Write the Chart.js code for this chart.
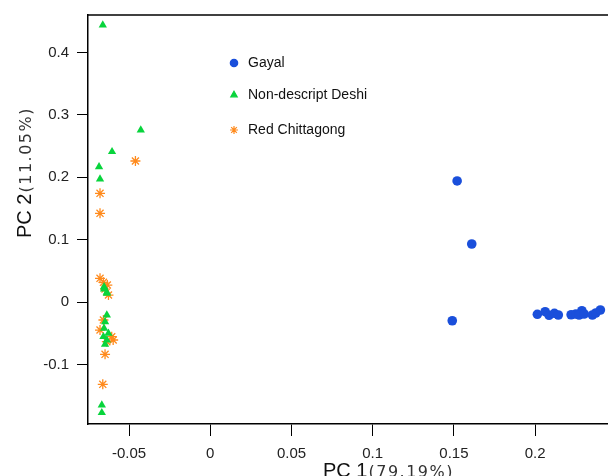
<!doctype html>
<html lang="en">
<head>
  <meta charset="utf-8">
  <title>PCA plot</title>
  <script src="https://cdn.jsdelivr.net/npm/chart.js@4.4.0/dist/chart.umd.min.js"></script>
  <style>
    html, body { margin: 0; padding: 0; background: #fff; }
  </style>
</head>
<body>
  <canvas id="myChart" width="608" height="476"></canvas>
  <script>
    // groups + PC scores
    const groups = ['Gayal', 'Non-descript Deshi', 'Red Chittagong'];

    const gayalX = [0.152, 0.161, 0.149, 0.2014, 0.2062, 0.2086, 0.2119, 0.2143, 0.2222, 0.2251, 0.2288, 0.2271, 0.2302, 0.2353, 0.2374, 0.2402];
    const gayalY = [0.194, 0.093, -0.030, -0.0197, -0.0155, -0.0213, -0.0181, -0.0208, -0.0204, -0.0192, -0.0139, -0.0208, -0.0192, -0.0208, -0.0176, -0.0128];

    const deshiX = [-0.0662, -0.0428, -0.0605, -0.0685, -0.0679, -0.0654, -0.0637, -0.0654, -0.0637, -0.0637, -0.0648, -0.0654, -0.0627, -0.0658, -0.0637, -0.0648, -0.0668, -0.0668];
    const deshiY = [0.4439, 0.2756, 0.2409, 0.2168, 0.1971, 0.0245, 0.0155, 0.0208, 0.0139, -0.0208, -0.0316, -0.0421, -0.0502, -0.0556, -0.0609, -0.0678, -0.1651, -0.1774];

    const redX = [-0.0461, -0.0679, -0.0679, -0.0679, -0.0658, -0.0634, -0.0648, -0.0627, -0.0658, -0.0679, -0.0607, -0.0598, -0.0637, -0.0648, -0.0662];
    const redY = [0.226, 0.1742, 0.1421, 0.0380, 0.0316, 0.0272, 0.0208, 0.0112, -0.0288, -0.0449, -0.0556, -0.0609, -0.0636, -0.0838, -0.1319];

    const xTicks = [-0.05, 0, 0.05, 0.1, 0.15, 0.2];
    const yTicks = [-0.1, 0, 0.1, 0.2, 0.3, 0.4];

    const colors = ['#1a4fdb', '#08d43c', '#ff8a1c'];
    const styles = ['circle', 'triangle', 'star'];

    function pts(xs, ys) {
      return xs.map((x, i) => ({ x: x, y: ys[i] }));
    }
    function fmt(v) {
      return String(Math.round(v * 100) / 100);
    }

    // box top line, legend and the two axis titles (mixed font sizes)
    const extras = {
      id: 'extras',
      afterDraw(chart) {
        const ctx = chart.ctx;
        const a = chart.chartArea;
        ctx.save();
        ctx.strokeStyle = '#000';
        ctx.lineWidth = 1.5;
        ctx.beginPath();
        ctx.moveTo(a.left, a.top);
        ctx.lineTo(chart.width, a.top);
        ctx.stroke();

        // legend
        const lx = 234, ly = [63, 95, 130];
        ctx.font = '14px "Liberation Sans", Arial, sans-serif';
        ctx.textBaseline = 'middle';
        ctx.textAlign = 'left';
        groups.forEach((g, i) => {
          ctx.fillStyle = colors[i];
          ctx.strokeStyle = colors[i];
          ctx.lineWidth = 1.2;
          Chart.helpers.drawPoint(ctx, { pointStyle: styles[i], radius: i == 2 ? 4 : 3.7, borderWidth: 1 }, lx, ly[i]);
          ctx.fillStyle = '#111';
          ctx.fillText(g, 248, ly[i]);
        });

        // x title
        ctx.textBaseline = 'alphabetic';
        ctx.fillStyle = '#111';
        ctx.font = '20px "Liberation Sans", Arial, sans-serif';
        const w1 = ctx.measureText('PC 1').width;
        ctx.font = '16px "DejaVu Sans", sans-serif';
        ctx.letterSpacing = '1.5px';
        const w2 = ctx.measureText('(79.19%)').width;
        ctx.letterSpacing = '0px';
        let sx = 388 - (w1 + w2) / 2;
        ctx.font = '20px "Liberation Sans", Arial, sans-serif';
        ctx.fillText('PC 1', sx, 477);
        ctx.font = '16px "DejaVu Sans", sans-serif';
        ctx.letterSpacing = '1.5px';
        ctx.fillStyle = '#333';
        ctx.fillText('(79.19%)', sx + w1 + 1, 477);
        ctx.letterSpacing = '0px';

        // y title
        ctx.translate(31, 173);
        ctx.rotate(-Math.PI / 2);
        ctx.fillStyle = '#111';
        ctx.font = '20px "Liberation Sans", Arial, sans-serif';
        const v1 = ctx.measureText('PC 2').width;
        ctx.font = '16px "DejaVu Sans", sans-serif';
        ctx.letterSpacing = '1.5px';
        const v2 = ctx.measureText('(11.05%)').width;
        ctx.letterSpacing = '0px';
        let sy = -(v1 + v2) / 2;
        ctx.font = '20px "Liberation Sans", Arial, sans-serif';
        ctx.fillText('PC 2', sy, 0);
        ctx.font = '16px "DejaVu Sans", sans-serif';
        ctx.letterSpacing = '1.5px';
        ctx.fillStyle = '#333';
        ctx.fillText('(11.05%)', sy + v1 + 1, 0);
        ctx.restore();
      }
    };

    const tickFont = { family: '"Liberation Sans", Arial, sans-serif', size: 15 };

    const data = {
      datasets: [
        { label: groups[0], data: pts(gayalX, gayalY), pointStyle: styles[0], pointRadius: 4.8, backgroundColor: colors[0], borderColor: colors[0], borderWidth: 0 },
        { label: groups[1], data: pts(deshiX, deshiY), pointStyle: styles[1], pointRadius: 4.8, backgroundColor: colors[1], borderColor: colors[1], borderWidth: 0 },
        { label: groups[2], data: pts(redX, redY), pointStyle: styles[2], pointRadius: 5, backgroundColor: colors[2], borderColor: colors[2], borderWidth: 1.3 }
      ]
    };

    const config = {
      type: 'scatter',
      data: data,
      options: {
        responsive: false,
        animation: false,
        layout: { autoPadding: false, padding: { top: 15, right: 0, left: 0, bottom: 0 } },
        plugins: { legend: { display: false }, tooltip: { enabled: false } },
        scales: {
          x: {
            type: 'linear',
            min: -0.0753,
            max: 0.2449,
            afterBuildTicks: axis => { axis.ticks = xTicks.map(v => ({ value: v })); },
            afterFit: s => { s.height = 52; s.paddingRight = 0; s.paddingLeft = 0; },
            ticks: { callback: v => fmt(v), font: tickFont, color: '#222', padding: 9, maxRotation: 0 },
            grid: { drawOnChartArea: false, drawTicks: true, tickLength: 12, color: '#000', lineWidth: 1 },
            border: { color: '#000', width: 1.5 }
          },
          y: {
            type: 'linear',
            min: -0.1955,
            max: 0.46,
            afterBuildTicks: axis => { axis.ticks = yTicks.map(v => ({ value: v })); },
            afterFit: s => { s.width = 88; s.paddingTop = 0; s.paddingBottom = 0; },
            ticks: { callback: v => fmt(v), font: tickFont, color: '#222', padding: 8 },
            grid: { drawOnChartArea: false, drawTicks: true, tickLength: 11, color: '#000', lineWidth: 1 },
            border: { color: '#000', width: 1.5 }
          }
        }
      },
      plugins: [extras]
    };

    const ctx = document.getElementById('myChart').getContext('2d');
    const myChart = new Chart(ctx, config);
  </script>
</body>
</html>
